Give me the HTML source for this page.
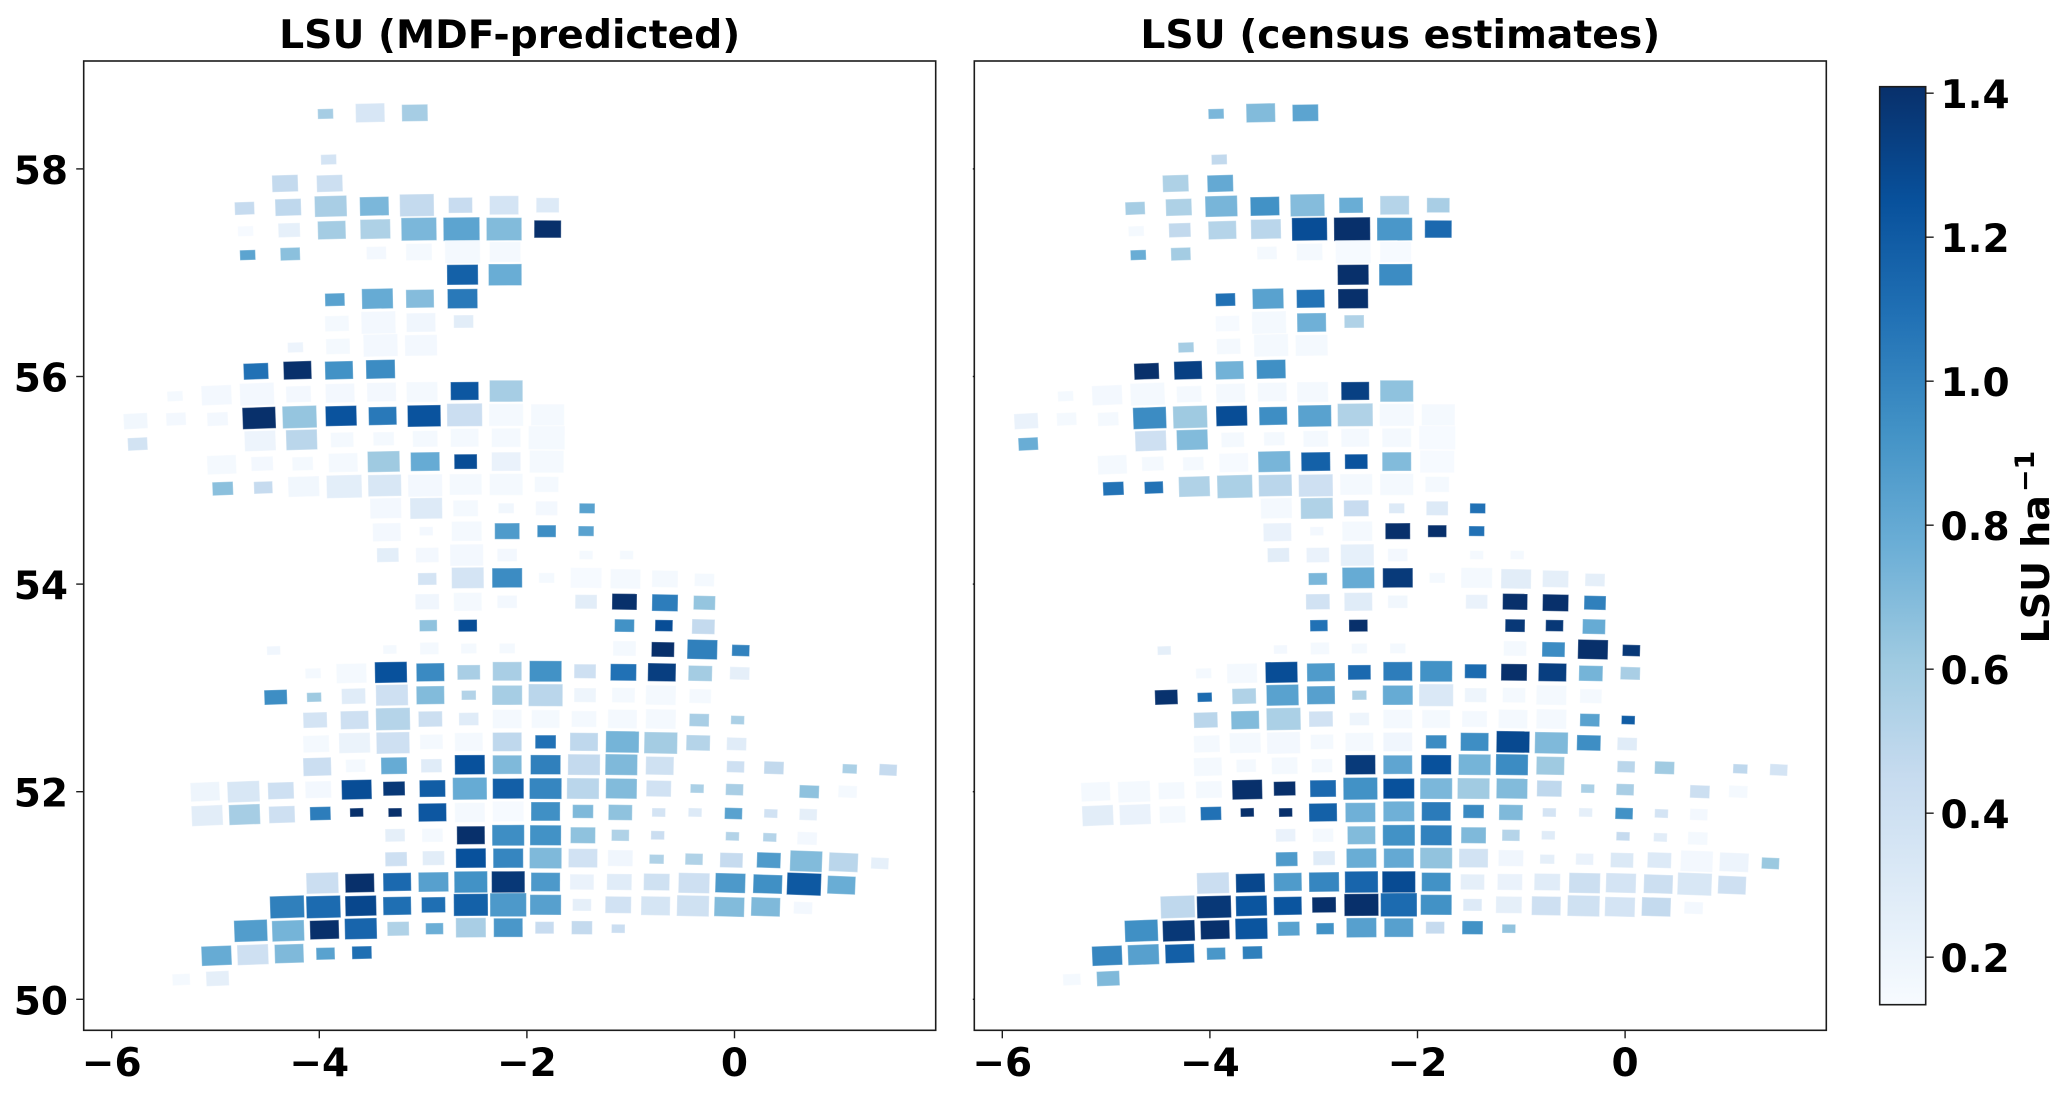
<!DOCTYPE html>
<html lang="en">
<head>
<meta charset="utf-8">
<title>LSU maps</title>
<style>
html,body{margin:0;padding:0;background:#fff;}
svg{display:block;}
text{font-family:"DejaVu Sans","Liberation Sans",sans-serif;font-weight:bold;fill:#000;}
</style>
</head>
<body>
<svg id="figure" xmlns="http://www.w3.org/2000/svg" width="2067" height="1097" viewBox="0 0 2067 1097">
<defs>
<linearGradient id="blues-gradient" x1="0" y1="1" x2="0" y2="0"></linearGradient>
</defs>
<rect x="0" y="0" width="2067" height="1097" fill="#fff"/>
<text x="509.7" y="48" font-size="39.3" text-anchor="middle">LSU (MDF-predicted)</text>
<text x="1400.3" y="48" font-size="39.3" text-anchor="middle">LSU (census estimates)</text>
<g id="left-panel"></g>
<g id="right-panel"></g>
<g id="colorbar"></g>
<text transform="translate(2049,643.5) rotate(-90)" font-size="38">LSU ha<tspan dx="3" dy="-15" font-size="27">&#8722;1</tspan></text>
</svg>
<script>
const xTicks = [-6, -4, -2, 0];
const yTicks = [50, 52, 54, 56, 58];
const colorbarTicks = [0.2, 0.4, 0.6, 0.8, 1.0, 1.2, 1.4];
const colorMin = 0.134;
const colorMax = 1.409;
const bluesStops = ['#f7fbff','#deebf7','#c6dbef','#9ecae1','#6baed6','#4292c6','#2171b5','#08519c','#08306b'];

const cellLon = [
-3.94,-3.51,-3.08,
-3.91,
-4.33,-3.90,
-4.72,-4.30,-3.89,-3.47,-3.06,-2.64,-2.22,-1.80,
-4.71,-4.29,-3.88,-3.46,-3.04,-2.63,-2.22,-1.80,
-4.69,-4.28,-3.45,-3.04,-2.62,-2.21,
-2.62,-2.21,
-3.85,-3.44,-3.03,-2.62,
-3.83,-3.43,-3.02,-2.61,
-4.23,-3.82,-3.41,-3.02,
-4.61,-4.21,-3.81,-3.41,
-5.39,-4.99,-4.60,-4.20,-3.80,-3.40,-3.01,-2.60,-2.20,
-5.77,-5.38,-4.98,-4.58,-4.19,-3.79,-3.39,-2.99,-2.60,-2.20,-1.80,
-5.75,-4.57,-4.17,-3.78,-3.38,-2.98,-2.60,-2.20,-1.81,
-4.94,-4.55,-4.16,-3.77,-3.38,-2.98,-2.59,-2.20,-1.81,
-4.93,-4.54,-4.15,-3.76,-3.37,-2.98,-2.59,-2.20,-1.81,
-3.36,-2.97,-2.59,-2.20,-1.81,-1.42,
-3.35,-2.97,-2.58,-2.19,-1.81,-1.43,
-3.34,-2.96,-2.58,-2.19,-1.43,-1.04,
-2.96,-2.57,-2.19,-1.81,-1.43,-1.05,-0.67,-0.29,
-2.96,-2.57,-2.19,-1.43,-1.06,-0.67,-0.29,
-2.95,-2.57,-1.06,-0.68,-0.30,
-4.44,-3.32,-2.94,-2.56,-2.19,-1.06,-0.69,-0.31,0.06,
-4.06,-3.69,-3.31,-2.93,-2.56,-2.19,-1.82,-1.44,-1.07,-0.70,-0.33,0.05,
-4.42,-4.05,-3.67,-3.30,-2.93,-2.56,-2.19,-1.82,-1.44,-1.07,-0.71,-0.33,
-4.04,-3.66,-3.29,-2.93,-2.56,-2.19,-1.82,-1.45,-1.08,-0.71,-0.34,0.03,
-4.03,-3.66,-3.29,-2.92,-2.56,-2.19,-1.82,-1.45,-1.08,-0.71,-0.35,0.02,
-4.02,-3.65,-3.28,-2.92,-2.55,-2.19,-1.82,-1.45,-1.09,-0.72,0.01,0.38,1.11,1.48,
-5.10,-4.73,-4.37,-4.01,-3.64,-3.28,-2.91,-2.55,-2.18,-1.82,-1.46,-1.09,-0.73,-0.36,0.00,0.72,1.09,
-5.08,-4.72,-4.36,-3.99,-3.64,-3.27,-2.91,-2.55,-2.18,-1.82,-1.46,-1.10,-0.73,-0.38,-0.01,0.35,0.71,
-3.27,-2.91,-2.54,-2.18,-1.82,-1.46,-1.10,-0.74,-0.02,0.34,0.70,
-3.26,-2.90,-2.54,-2.18,-1.82,-1.46,-1.10,-0.75,-0.39,-0.03,0.33,0.69,1.05,1.40,
-3.97,-3.61,-3.25,-2.90,-2.54,-2.18,-1.82,-1.47,-1.11,-0.75,-0.39,-0.04,0.32,0.67,1.03,
-4.31,-3.96,-3.60,-3.25,-2.90,-2.54,-2.18,-1.82,-1.47,-1.12,-0.76,-0.40,-0.05,0.30,0.66,
-4.66,-4.30,-3.95,-3.60,-3.24,-2.89,-2.54,-2.18,-1.83,-1.47,-1.12,
-4.99,-4.64,-4.29,-3.94,-3.59,
-5.33,-4.98
];

const cellLat = [
58.53,58.54,58.54,
58.09,
57.86,57.86,
57.62,57.63,57.64,57.64,57.65,57.65,57.65,57.65,
57.40,57.41,57.41,57.42,57.42,57.42,57.42,57.42,
57.17,57.18,57.19,57.20,57.20,57.20,
56.98,56.98,
56.74,56.75,56.75,56.75,
56.51,56.52,56.52,56.53,
56.28,56.29,56.30,56.30,
56.05,56.06,56.06,56.07,
55.81,55.82,55.83,55.83,55.84,55.85,55.85,55.86,55.86,
55.57,55.59,55.59,55.60,55.61,55.62,55.62,55.62,55.63,55.63,55.63,
55.35,55.38,55.39,55.39,55.40,55.40,55.41,55.41,55.41,
55.15,55.16,55.16,55.17,55.18,55.18,55.18,55.18,55.18,
54.92,54.93,54.94,54.94,54.95,54.95,54.96,54.96,54.96,
54.73,54.73,54.73,54.73,54.73,54.73,
54.50,54.51,54.51,54.51,54.51,54.51,
54.28,54.28,54.28,54.28,54.28,54.28,
54.05,54.06,54.06,54.06,54.06,54.05,54.05,54.04,
53.83,53.83,53.83,53.83,53.83,53.82,53.82,
53.60,53.60,53.60,53.60,53.59,
53.36,53.37,53.38,53.38,53.38,53.38,53.37,53.37,53.36,
53.14,53.14,53.15,53.15,53.15,53.16,53.16,53.16,53.15,53.15,53.14,53.14,
52.91,52.91,52.92,52.93,52.93,52.93,52.93,52.93,52.93,52.93,52.93,52.92,
52.69,52.69,52.70,52.70,52.70,52.70,52.70,52.70,52.70,52.70,52.69,52.69,
52.46,52.47,52.47,52.48,52.48,52.48,52.48,52.48,52.48,52.47,52.47,52.46,
52.24,52.25,52.25,52.25,52.26,52.26,52.26,52.26,52.26,52.25,52.24,52.23,52.22,52.21,
52.00,52.00,52.01,52.02,52.02,52.03,52.03,52.03,52.03,52.03,52.03,52.03,52.03,52.03,52.02,52.00,52.00,
51.77,51.78,51.78,51.79,51.80,51.80,51.80,51.80,51.81,51.81,51.81,51.80,51.80,51.80,51.79,51.79,51.78,
51.58,51.58,51.58,51.58,51.58,51.58,51.58,51.58,51.57,51.56,51.55,
51.35,51.36,51.36,51.36,51.36,51.36,51.36,51.35,51.35,51.34,51.34,51.33,51.32,51.31,
51.12,51.12,51.13,51.13,51.13,51.13,51.13,51.13,51.13,51.13,51.12,51.12,51.11,51.11,51.10,
50.89,50.89,50.90,50.90,50.91,50.91,50.91,50.91,50.91,50.91,50.90,50.90,50.89,50.89,50.88,
50.66,50.66,50.67,50.68,50.68,50.68,50.69,50.69,50.69,50.69,50.68,
50.42,50.43,50.44,50.44,50.45,
50.19,50.20
];

const cellSize = [
.15,.28,.25,
.15,
.25,.25,
.19,.25,.31,.28,.33,.23,.28,.22,
.15,.21,.27,.29,.34,.35,.34,.26,
.15,.19,.19,.25,.34,.30,
.30,.32,
.19,.30,.27,.29,
.23,.33,.28,.19,
.15,.23,.33,.31,
.24,.27,.27,.28,
.15,.29,.33,.24,.28,.28,.30,.27,.32,
.23,.19,.20,.32,.33,.30,.27,.32,.34,.33,.32,
.19,.30,.30,.22,.20,.24,.27,.28,.35,
.28,.21,.20,.28,.31,.28,.22,.28,.33,
.20,.18,.30,.34,.32,.33,.31,.32,.23,
.30,.31,.24,.15,.21,.15,
.27,.13,.29,.24,.18,.15,
.21,.22,.32,.19,.13,.13,
.18,.31,.29,.15,.30,.29,.25,.19,
.23,.27,.19,.21,.24,.25,.21,
.17,.18,.19,.17,.22,
.13,.13,.18,.15,.15,.22,.22,.29,.17,
.15,.29,.31,.27,.22,.28,.31,.21,.25,.27,.23,.19,
.22,.14,.23,.31,.27,.14,.29,.33,.21,.22,.29,.21,
.23,.27,.33,.23,.19,.28,.27,.24,.28,.29,.19,.13,
.25,.30,.32,.22,.27,.28,.20,.27,.32,.32,.23,.19,
.27,.19,.25,.20,.29,.28,.29,.31,.31,.27,.17,.19,.14,.17,
.28,.31,.25,.25,.29,.21,.25,.33,.30,.31,.31,.30,.24,.13,.17,.19,.18,
.30,.30,.25,.20,.13,.13,.27,.29,.30,.28,.20,.23,.13,.13,.17,.13,.17,
.19,.20,.27,.31,.30,.24,.17,.13,.13,.13,.19,
.21,.21,.29,.29,.31,.28,.24,.14,.17,.22,.23,.31,.28,.17,
.31,.28,.27,.29,.32,.32,.28,.23,.24,.25,.30,.29,.28,.33,.27,
.33,.33,.30,.27,.23,.33,.35,.30,.18,.25,.28,.31,.29,.28,.18,
.32,.31,.28,.31,.21,.17,.29,.28,.18,.20,.13,
.29,.30,.28,.18,.19,
.17,.22
];

const predicted = [
.58,.34,.58,
.36,
.46,.41,
.45,.48,.57,.72,.46,.44,.36,.30,
.14,.24,.59,.55,.72,.83,.70,1.41,
.83,.67,.16,.15,.15,.15,
1.17,.78,
.84,.79,.69,1.05,
.15,.16,.18,.27,
.20,.15,.16,.16,
1.09,1.41,.93,.96,
.15,.16,.16,.16,.16,.16,.15,1.22,.58,
.17,.16,.16,1.41,.64,1.24,1.05,1.24,.42,.15,.15,
.37,.20,.50,.15,.15,.15,.15,.15,.15,
.15,.16,.15,.15,.61,.79,1.27,.22,.15,
.67,.45,.17,.26,.33,.16,.15,.15,.15,
.16,.30,.15,.17,.16,.84,
.16,.16,.15,.88,.95,.84,
.26,.16,.16,.16,.15,.15,
.36,.36,.96,.15,.14,.15,.15,.15,
.18,.15,.16,.27,1.41,1.03,.64,
.66,1.27,.93,1.27,.46,
.18,.15,.15,.15,.15,.15,1.41,1.02,1.01,
.15,.15,1.25,.97,.57,.57,.93,.40,1.09,1.34,.59,.25,
.95,.61,.28,.40,.70,.53,.58,.50,.19,.15,.15,.15,
.36,.40,.52,.41,.28,.15,.15,.15,.15,.15,.57,.56,
.15,.21,.40,.15,.15,.48,1.09,.48,.74,.59,.52,.28,
.42,.15,.79,.28,1.25,.71,1.02,.46,.71,.39,.40,.47,.56,.45,
.19,.33,.40,.16,1.27,1.37,1.19,.79,1.18,.99,.50,.70,.38,.56,.57,.66,.15,
.27,.58,.40,1.03,1.41,1.41,1.22,.15,.14,.94,.71,.66,.36,.30,.84,.38,.25,
.25,.15,1.41,.95,.93,.66,.54,.42,.53,.52,.16,
.40,.27,1.25,.99,.71,.38,.18,.54,.54,.45,.88,.70,.50,.24,
.42,1.41,1.13,.85,.93,1.37,.89,.22,.28,.39,.40,.89,.94,1.21,.78,
1.02,1.12,1.30,1.10,1.10,1.17,.89,.85,.25,.38,.35,.39,.70,.71,.16,
.87,.74,1.41,1.15,.54,.77,.57,.90,.44,.46,.42,
.79,.40,.71,.84,1.10,
.15,.25
];

const census = [
.72,.70,.83,
.47,
.55,.80,
.58,.55,.73,.93,.69,.78,.52,.57,
.15,.47,.52,.50,1.27,1.41,.90,1.13,
.78,.59,.15,.15,.14,.14,
1.41,.96,
1.09,.84,1.08,1.41,
.14,.15,.76,.54,
.58,.15,.15,.15,
1.41,1.33,.75,.94,
.15,.16,.15,.15,.15,.15,.15,1.33,.66,
.22,.15,.15,.96,.61,1.27,.95,.84,.54,.15,.15,
.78,.40,.70,.15,.15,.15,.15,.15,.14,
.15,.15,.15,.14,.73,1.17,1.24,.70,.14,
1.08,1.08,.54,.56,.50,.40,.15,.15,.15,
.15,.54,.44,.30,.30,1.09,
.22,.16,.15,1.41,1.41,1.09,
.27,.22,.24,.16,.15,.15,
.72,.79,1.36,.15,.15,.27,.25,.25,
.38,.28,.17,.22,1.41,1.41,1.02,
1.09,1.41,1.37,1.37,.79,
.25,.16,.15,.15,.15,.15,.96,1.41,1.37,
.15,.15,1.27,.88,1.13,1.03,.93,1.12,1.41,1.34,.74,.57,
1.40,1.12,.54,.84,.85,.55,.79,.32,.19,.15,.15,.15,
.50,.70,.56,.38,.19,.15,.15,.15,.15,.15,.84,1.19,
.15,.15,.16,.15,.15,.18,.96,.95,1.29,.71,.95,.28,
.15,.15,.15,.15,1.36,.82,1.25,.74,.96,.61,.50,.60,.48,.36,
.15,.15,.15,.15,1.41,1.41,1.13,.93,1.25,.72,.60,.70,.48,.56,.57,.41,.15,
.27,.22,.15,1.09,1.41,1.41,1.17,.76,.76,1.04,.97,.71,.36,.25,.93,.36,.16,
.22,.15,.70,.93,1.01,.71,.52,.28,.45,.27,.15,
.88,.28,.78,.80,.65,.37,.18,.25,.22,.31,.30,.16,.20,.62,
.42,1.30,.88,.99,1.15,1.28,.93,.25,.22,.28,.41,.36,.41,.33,.40,
.48,1.37,1.23,1.23,1.41,1.41,1.12,.93,.30,.25,.40,.39,.36,.46,.16,
.94,1.37,1.41,1.23,.84,.93,.85,.85,.45,.93,.65,
.99,.85,1.18,.90,1.02,
.15,.71
];

const SVG_NS = 'http://www.w3.org/2000/svg';
const PX_PER_DEG = 103.8;
const CELL_ASPECT = 0.65;
const TILT_PER_DEG_LON = 0.78;
const TILT_ORIGIN_LON = -2;
const PLOT_TOP = 61;
const PLOT_BOTTOM = 1030.3;
const PLOT_WIDTH = 852;
const Y_AT_50 = 999.3;
const LON_MINUS6_OFFSET = 28;
const CB_LEFT = 1879.7;
const CB_RIGHT = 1925.7;
const CB_TOP = 86.7;
const CB_BOTTOM = 1004.7;

function make(tag, attrs) {
  const el = document.createElementNS(SVG_NS, tag);
  for (const key in attrs) el.setAttribute(key, attrs[key]);
  return el;
}
function yScale(lat) { return Y_AT_50 - PX_PER_DEG * (lat - 50); }
function xScale(left, lon) { return left + LON_MINUS6_OFFSET + PX_PER_DEG * (lon + 6); }
function hexToRgb(h) { return [parseInt(h.slice(1,3),16), parseInt(h.slice(3,5),16), parseInt(h.slice(5,7),16)]; }
function colorOf(v) {
  let t = (v - colorMin) / (colorMax - colorMin);
  t = Math.max(0, Math.min(1, t)) * (bluesStops.length - 1);
  const i = Math.min(Math.floor(t), bluesStops.length - 2);
  const a = hexToRgb(bluesStops[i]);
  const b = hexToRgb(bluesStops[i + 1]);
  const f = t - i;
  return 'rgb(' + a.map((c, k) => Math.round(c + (b[k] - c) * f)).join(',') + ')';
}
function formatTick(v) { return String(v).replace('-', '\u2212'); }

function drawPanel(group, left, values, showYLabels) {
  for (let i = 0; i < cellLon.length; i++) {
    const w = cellSize[i] * PX_PER_DEG;
    const h = w * CELL_ASPECT;
    const cx = xScale(left, cellLon[i]);
    const cy = yScale(cellLat[i]);
    const tilt = TILT_PER_DEG_LON * (cellLon[i] - TILT_ORIGIN_LON);
    const cell = make('rect', {
      x: (cx - w / 2).toFixed(2),
      y: (cy - h / 2).toFixed(2),
      width: w.toFixed(2),
      height: h.toFixed(2),
      fill: colorOf(values[i]),
      stroke: '#fff',
      'stroke-opacity': '0.35',
      'stroke-width': '1',
      transform: 'rotate(' + tilt.toFixed(2) + ' ' + cx.toFixed(2) + ' ' + cy.toFixed(2) + ')'
    });
    
    
    group.appendChild(cell);
  }
  const frame = make('rect', {
    x: left, y: PLOT_TOP, width: PLOT_WIDTH, height: PLOT_BOTTOM - PLOT_TOP,
    fill: 'none', stroke: '#1c1c1c', 'stroke-width': '1.6'
  });
  
  
  group.appendChild(frame);

  xTicks.forEach(function (t) {
    const x = xScale(left, t);
    const mark = make('line', { x1: x, x2: x, y1: PLOT_BOTTOM, y2: PLOT_BOTTOM + 8, stroke: '#1c1c1c', 'stroke-width': '1.4' });
    
    
    group.appendChild(mark);
    const label = make('text', { x: x, y: 1076, 'font-size': '39', 'text-anchor': 'middle' });
    label.textContent = formatTick(t);
    
    
    group.appendChild(label);
  });

  yTicks.forEach(function (t) {
    const y = yScale(t);
    const mark = make('line', { x1: left - (showYLabels ? 7.5 : 1.5), x2: left, y1: y, y2: y, stroke: '#1c1c1c', 'stroke-width': '1.4' });
    
    
    group.appendChild(mark);
    if (showYLabels) {
      const label = make('text', { x: 68, y: y + 15, 'font-size': '39', 'text-anchor': 'end' });
      label.textContent = formatTick(t);
      
      
      group.appendChild(label);
    }
  });
}

function drawColorbar(group) {
  const gradient = document.getElementById('blues-gradient');
  bluesStops.forEach(function (c, i) {
    gradient.appendChild(make('stop', { offset: i / (bluesStops.length - 1), 'stop-color': c }));
  });
  const bar = make('rect', {
    x: CB_LEFT, y: CB_TOP, width: CB_RIGHT - CB_LEFT, height: CB_BOTTOM - CB_TOP,
    fill: 'url(#blues-gradient)', stroke: '#1c1c1c', 'stroke-width': '1.6'
  });
  
  
  group.appendChild(bar);
  const scale = (CB_BOTTOM - CB_TOP) / (colorMax - colorMin);
  colorbarTicks.forEach(function (v) {
    const y = CB_BOTTOM - (v - colorMin) * scale;
    const mark = make('line', { x1: CB_RIGHT, x2: CB_RIGHT + 8, y1: y, y2: y, stroke: '#1c1c1c', 'stroke-width': '1.4' });
    
    
    group.appendChild(mark);
    const label = make('text', { x: 1940.5, y: y + 15, 'font-size': '39' });
    label.textContent = v.toFixed(1);
    
    
    group.appendChild(label);
  });
}

drawPanel(document.getElementById('left-panel'), 83.7, predicted, true);
drawPanel(document.getElementById('right-panel'), 974.3, census, false);
drawColorbar(document.getElementById('colorbar'));
</script>
</body>
</html>
